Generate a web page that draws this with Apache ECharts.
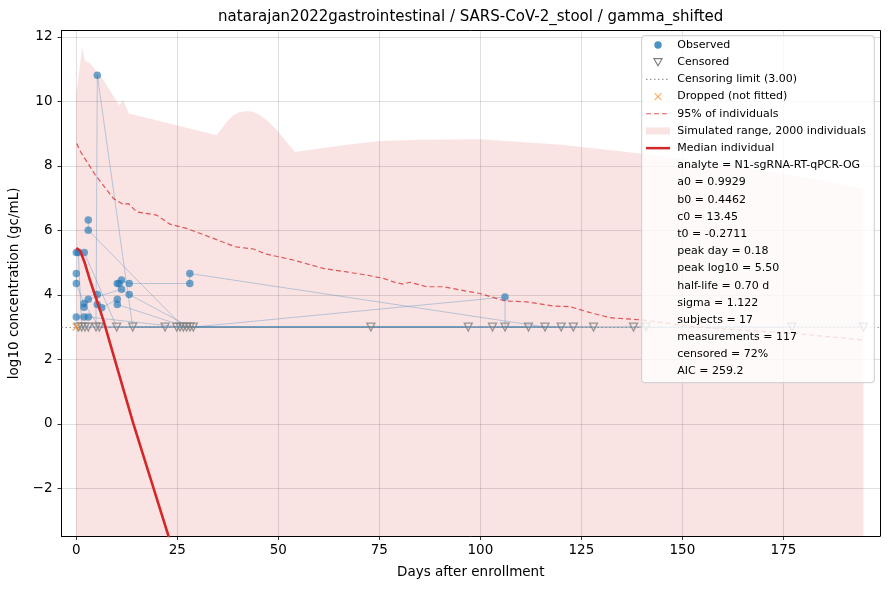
<!DOCTYPE html>
<html lang="en">
<head>
<meta charset="UTF-8">
<title>gamma_shifted</title>
<style>
    *{ margin: 0; padding: 0; }
    body{ background: #fff; }
    #chart{ width: 890px; height: 590px; }
</style>
<script src="https://cdn.jsdelivr.net/npm/echarts@6.0.0/dist/echarts.min.js"></script>
</head>
<body>
<div id="chart"></div>
<script>
var FONT = '"DejaVu Sans", sans-serif';

// simulated range, upper edge (lower edge is below the plot everywhere)
var bandDays = [0, 1.49, 2.15, 3.4, 6.7, 10.6, 11.6, 13.0, 34.75, 36, 37.2, 38.9, 40.5, 42.6, 44, 45.5, 47.5, 49.6, 52, 54.1, 58, 62, 68, 75.2, 85, 99.9, 120, 139.5, 160, 180, 194.8];
var bandUpper = [10.24, 11.69, 11.26, 11.18, 10.66, 9.88, 10.04, 9.62, 8.95, 9.15, 9.36, 9.57, 9.67, 9.70, 9.66, 9.57, 9.38, 9.11, 8.75, 8.43, 8.50, 8.57, 8.67, 8.77, 8.81, 8.82, 8.65, 8.38, 8.05, 7.65, 7.30];

// 95% of individuals
var p95Days = [0.1, 1.09, 4.63, 9.16, 11.63, 12.87, 14.95, 19.9, 23.2, 27.3, 33.9, 39.3, 43.8, 47.1, 53.7, 61.1, 66.9, 71.9, 76.0, 78.5, 80.9, 82.6, 86.7, 90.8, 95.0, 99.9, 106.1, 111.5, 118.1, 122.2, 128.0, 132.1, 140.0, 152.6, 177.5, 194.8];
var p95Vals = [8.69, 8.43, 7.73, 6.99, 6.80, 6.83, 6.57, 6.47, 6.19, 6.06, 5.75, 5.49, 5.42, 5.26, 5.08, 4.82, 4.71, 4.61, 4.51, 4.40, 4.33, 4.39, 4.25, 4.25, 4.15, 4.04, 3.81, 3.78, 3.65, 3.63, 3.42, 3.29, 3.22, 3.01, 2.80, 2.60];

// median individual
var medianDays = [0, 0.18, 1, 2.15, 3.4, 6.68, 14.1, 22.75, 25];
var medianVals = [5.45, 5.50, 5.36, 4.97, 4.45, 3.22, 0.01, -3.45, -4.4];

// observed values
var obsDays = [0, 0.5, 1.98, 5.2, 2.97, 2.97, 0, 0, 0, 1.9, 1.9, 1.9, 2.97, 2.97, 5.2, 5.2, 6.3, 10.15, 10.6, 11.2, 11.2, 10.15, 10.15, 13.1, 13.1, 28.1, 28.1, 106.1];
var obsVals = [5.31, 5.31, 5.31, 10.81, 6.32, 6.0, 4.66, 4.35, 3.31, 3.73, 3.61, 3.31, 3.86, 3.31, 4.01, 3.70, 3.60, 4.35, 4.35, 4.46, 4.17, 3.86, 3.70, 4.35, 4.01, 4.66, 4.35, 3.93];

// censored samples, plotted at the censoring limit
var censLimit = 3.0;
var censDays = [0.5, 1.34, 2.15, 2.97, 4.88, 5.69, 10.0, 13.96, 21.96, 24.85, 25.67, 26.5, 27.3, 28.14, 28.96, 72.9, 97.0, 103, 106.1, 111.9, 116, 120, 123, 128, 137.9, 141, 177.1, 194.8];

// dropped (not fitted)
var droppedDays = [0];
var droppedVals = [3.0];

// per-subject trajectories [day, log10]
var subjectTracks = [
    [[0, 5.31], [1.98, 5.31], [10.0, 3], [21.96, 3], [72.9, 3], [97.0, 3]],
    [[4.88, 3], [5.2, 10.81], [13.96, 3], [111.9, 3]],
    [[2.97, 6.32], [2.97, 6.0], [26.5, 3], [103, 3], [128, 3]],
    [[0, 4.66], [0, 4.35], [1.9, 3.73], [5.69, 3], [24.85, 3], [120, 3]],
    [[10.15, 4.35], [10.6, 4.35], [11.2, 4.46], [13.1, 4.35], [28.1, 4.35], [28.1, 4.66], [116, 3]],
    [[0.5, 3], [28.96, 3], [106.1, 3.93], [106.1, 3], [137.9, 3], [194.8, 3]],
    [[0, 3.31], [1.9, 3.31], [2.97, 3.31], [25.67, 3], [141, 3], [177.1, 3]],
    [[5.2, 4.01], [5.2, 3.70], [6.3, 3.60], [10.15, 3.86], [10.15, 3.70], [27.3, 3], [123, 3]],
    [[1.9, 3.61], [2.97, 3.86], [11.2, 4.17], [13.1, 4.01], [28.14, 3]],
    [[0.5, 5.31], [1.34, 3], [2.15, 3], [2.97, 3], [21.96, 3]]
];

var titleText = 'natarajan2022gastrointestinal / SARS-CoV-2_stool / gamma_shifted';
var legendLabels = ['Observed', 'Censored', 'Censoring limit (3.00)', 'Dropped (not fitted)', '95% of individuals', 'Simulated range, 2000 individuals', 'Median individual'];
var statLines = ['analyte = N1-sgRNA-RT-qPCR-OG', 'a0 = 0.9929', 'b0 = 0.4462', 'c0 = 13.45', 't0 = -0.2711', 'peak day = 0.18', 'peak log10 = 5.50', 'half-life = 0.70 d', 'sigma = 1.122', 'subjects = 17', 'measurements = 117', 'censored = 72%', 'AIC = 259.2'];

function zip(xs, ys) {
    return xs.map(function (x, i) { return [x, ys[i]]; });
}

var X_MIN = -3.66, X_MAX = 198.9, Y_MIN = -3.48, Y_MAX = 12.19;
var xCross = 'path://M1,0L5,4L9,0L10,1L6,5L10,9L9,10L5,6L1,10L0,9L4,5L0,1Z';

var series = [];

series.push({
    type: 'line',
    z: 0,
    data: zip(bandDays, bandUpper),
    symbol: 'none',
    lineStyle: { width: 0 },
    areaStyle: { origin: 'start', color: 'rgba(214,39,40,0.13)', opacity: 1 },
    silent: true
});

subjectTracks.forEach(function (track) {
    series.push({
        type: 'line',
        z: 2,
        data: track,
        symbol: 'none',
        lineStyle: { color: 'rgba(31,119,180,0.3)', width: 1 },
        silent: true
    });
});

series.push({
    type: 'line',
    z: 3,
    data: zip(p95Days, p95Vals),
    symbol: 'none',
    lineStyle: { color: 'rgba(214,39,40,0.75)', width: 1.2, type: [5, 3] },
    silent: true
});

series.push({
    type: 'scatter',
    z: 4,
    data: zip(obsDays, obsVals),
    symbol: 'circle',
    symbolSize: 7.5,
    itemStyle: { color: 'rgba(31,119,180,0.8)' },
    silent: true
});

series.push({
    type: 'scatter',
    z: 4,
    data: censDays.map(function (d) { return [d, censLimit]; }),
    symbol: 'triangle',
    symbolRotate: 180,
    symbolSize: 8,
    itemStyle: { color: 'rgba(255,255,255,0)', borderColor: '#7f7f7f', borderWidth: 1.3 },
    silent: true,
    markLine: {
        silent: true,
        symbol: 'none',
        label: { show: false },
        lineStyle: { color: 'rgba(128,128,128,0.8)', type: [1.5, 2.5], width: 1.2 },
        data: [{ yAxis: censLimit }]
    }
});

series.push({
    type: 'scatter',
    z: 5,
    data: zip(droppedDays, droppedVals),
    symbol: xCross,
    symbolSize: 8,
    itemStyle: { color: '#ff7f0e' },
    silent: true
});

series.push({
    type: 'line',
    z: 6,
    data: zip(medianDays, medianVals),
    symbol: 'none',
    lineStyle: { color: '#d62728', width: 2.6 },
    silent: true
});

// legend drawn by hand (matplotlib style box), on top of everything
var LZ = 100;
var LX = 641.7, LY = 35.7, ROW0 = 45, ROWH = 17.19, HX0 = 646, HX1 = 670, HC = 658, TX = 677.3;
var legendEls = [{
    type: 'rect', z: LZ,
    shape: { x: LX, y: LY, width: 232.6, height: 347, r: 3 },
    style: { fill: 'rgba(255,255,255,0.8)', stroke: '#cccccc', lineWidth: 1 }
}];
function rowY(i) { return ROW0 + ROWH * i; }
var y0 = rowY(0), y1 = rowY(1), y2 = rowY(2), y3 = rowY(3), y4 = rowY(4), y5 = rowY(5), y6 = rowY(6);
legendEls.push({ type: 'circle', z: LZ + 1, shape: { cx: HC, cy: y0, r: 3.7 }, style: { fill: 'rgba(31,119,180,0.8)' } });
legendEls.push({ type: 'polygon', z: LZ + 1, shape: { points: [[HC - 4, y1 - 3.5], [HC + 4, y1 - 3.5], [HC, y1 + 3.5]] }, style: { fill: 'none', stroke: '#7f7f7f', lineWidth: 1.2 } });
legendEls.push({ type: 'line', z: LZ + 1, shape: { x1: HX0, y1: y2, x2: HX1, y2: y2 }, style: { stroke: 'rgba(128,128,128,0.8)', lineWidth: 1.2, lineDash: [1.5, 2.5] } });
legendEls.push({ type: 'line', z: LZ + 1, shape: { x1: HC - 3.5, y1: y3 - 3.5, x2: HC + 3.5, y2: y3 + 3.5 }, style: { stroke: 'rgba(255,127,14,0.6)', lineWidth: 1.2 } });
legendEls.push({ type: 'line', z: LZ + 1, shape: { x1: HC - 3.5, y1: y3 + 3.5, x2: HC + 3.5, y2: y3 - 3.5 }, style: { stroke: 'rgba(255,127,14,0.6)', lineWidth: 1.2 } });
legendEls.push({ type: 'line', z: LZ + 1, shape: { x1: HX0, y1: y4, x2: HX1, y2: y4 }, style: { stroke: 'rgba(214,39,40,0.75)', lineWidth: 1.2, lineDash: [5, 3] } });
legendEls.push({ type: 'rect', z: LZ + 1, shape: { x: HX0, y: y5 - 3.5, width: HX1 - HX0, height: 7 }, style: { fill: 'rgba(214,39,40,0.13)' } });
legendEls.push({ type: 'line', z: LZ + 1, shape: { x1: HX0, y1: y6, x2: HX1, y2: y6 }, style: { stroke: '#d62728', lineWidth: 2.5 } });

legendLabels.concat(statLines).forEach(function (txt, i) {
    legendEls.push({
        type: 'text', z: LZ + 1,
        style: { x: TX, y: rowY(i), text: txt, font: '11px ' + FONT, fill: '#000', verticalAlign: 'middle', align: 'left' }
    });
});

var chart = echarts.init(document.getElementById('chart'), null, { renderer: 'canvas' });

var axisText = { color: '#000', fontFamily: FONT, fontSize: 13.5 };

chart.setOption({
    animation: false,
    backgroundColor: '#fff',
    grid: { left: 61.5, right: 10, top: 30.7, bottom: 54, containLabel: false, outerBoundsMode: 'none' },
    xAxis: [{
        type: 'value',
        min: X_MIN, max: X_MAX,
        minInterval: 25, maxInterval: 25,
        z: 1,
        name: 'Days after enrollment',
        nameLocation: 'middle',
        nameGap: 29,
        nameTextStyle: axisText,
        axisLine: { show: true, onZero: false, lineStyle: { color: '#000', width: 1 } },
        axisTick: { show: true, inside: false, length: 4, lineStyle: { color: '#000', width: 0.8 } },
        axisLabel: {
            color: '#000', fontFamily: FONT, fontSize: 13.5, margin: 7,
            showMinLabel: false, showMaxLabel: false,
            formatter: function (v) { return Math.abs(v % 25) < 1e-6 ? String(v) : ''; }
        },
        splitLine: { show: true, lineStyle: { color: 'rgba(0,0,0,0.12)', width: 1 } }
    }, {
        type: 'value', position: 'top', min: X_MIN, max: X_MAX, z: 1,
        axisLine: { show: true, onZero: false, lineStyle: { color: '#000', width: 1 } },
        axisTick: { show: false }, axisLabel: { show: false }, splitLine: { show: false }
    }],
    yAxis: [{
        type: 'value',
        min: Y_MIN, max: Y_MAX,
        minInterval: 2, maxInterval: 2,
        z: 1,
        name: 'log10 concentration (gc/mL)',
        nameLocation: 'middle',
        nameGap: 38,
        nameTextStyle: axisText,
        axisLine: { show: true, onZero: false, lineStyle: { color: '#000', width: 1 } },
        axisTick: { show: true, inside: false, length: 4, lineStyle: { color: '#000', width: 0.8 } },
        axisLabel: {
            color: '#000', fontFamily: FONT, fontSize: 13.5, margin: 9,
            showMinLabel: false, showMaxLabel: false,
            formatter: function (v) { return Math.abs(v % 2) < 1e-6 ? String(v).replace('-', '\u2212') : ''; }
        },
        splitLine: { show: true, lineStyle: { color: 'rgba(0,0,0,0.12)', width: 1 } }
    }, {
        type: 'value', position: 'right', min: Y_MIN, max: Y_MAX, z: 1,
        axisLine: { show: true, onZero: false, lineStyle: { color: '#000', width: 1 } },
        axisTick: { show: false }, axisLabel: { show: false }, splitLine: { show: false }
    }],
    graphic: [{
        type: 'text',
        z: 100,
        style: { x: 470.7, y: 17, text: titleText, font: '15px ' + FONT, fill: '#000', align: 'center', verticalAlign: 'middle' }
    }, {
        type: 'group',
        z: 100,
        children: legendEls
    }],
    series: series
});
</script>
</body>
</html>
